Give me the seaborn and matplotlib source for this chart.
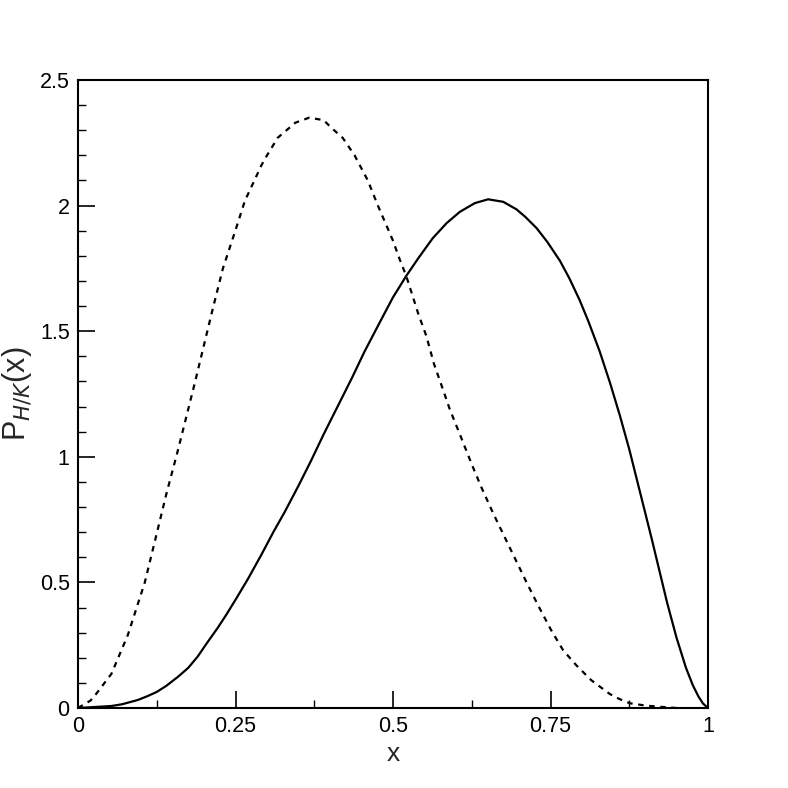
import numpy as np
import pandas as pd
import matplotlib
matplotlib.use("Agg")
import matplotlib.pyplot as plt
from matplotlib.ticker import MultipleLocator
import seaborn as sns


# -- -- -- -- --    data -- -- -- -- --

x_solid = [0.0, 0.053, 0.07, 0.095, 0.11, 0.125, 0.14, 0.159, 0.175, 0.19,
           0.205, 0.222, 0.235, 0.251, 0.27, 0.291, 0.31, 0.328, 0.35, 0.37,
           0.39, 0.413, 0.435, 0.455, 0.48, 0.5, 0.521, 0.54, 0.563, 0.585,
           0.606, 0.63, 0.651, 0.675, 0.696, 0.71, 0.728, 0.745, 0.765, 0.78,
           0.796, 0.81, 0.828, 0.845, 0.86, 0.875, 0.892, 0.91, 0.923, 0.935,
           0.95, 0.965, 0.976, 0.985, 0.992, 1.0]
y_solid = [0.0, 0.008, 0.015, 0.032, 0.047, 0.064, 0.088, 0.125, 0.16, 0.205,
           0.26, 0.32, 0.37, 0.435, 0.515, 0.61, 0.70, 0.78, 0.885, 0.985,
           1.09, 1.205, 1.315, 1.42, 1.54, 1.635, 1.72, 1.79, 1.87, 1.93,
           1.975, 2.01, 2.025, 2.015, 1.985, 1.955, 1.91, 1.855, 1.78, 1.71,
           1.625, 1.54, 1.42, 1.29, 1.165, 1.03, 0.86, 0.68, 0.545, 0.42,
           0.28, 0.16, 0.09, 0.045, 0.018, 0.0]

x_dashed = [0.0, 0.02, 0.03, 0.053, 0.079, 0.106, 0.125, 0.14, 0.159, 0.17,
            0.185, 0.212, 0.23, 0.251, 0.265, 0.28, 0.291, 0.30, 0.317, 0.345,
            0.367, 0.39, 0.402, 0.42, 0.439, 0.46, 0.476, 0.5, 0.51, 0.521,
            0.54, 0.553, 0.565, 0.579, 0.59, 0.606, 0.625, 0.64, 0.659, 0.685,
            0.712, 0.73, 0.751, 0.77, 0.791, 0.815, 0.844, 0.86, 0.876, 0.9,
            0.923, 0.95]
y_dashed = [0.0, 0.03, 0.06, 0.136, 0.29, 0.50, 0.695, 0.85, 1.03, 1.14,
            1.29, 1.57, 1.75, 1.91, 2.02, 2.10, 2.16, 2.20, 2.27, 2.33,
            2.35, 2.34, 2.31, 2.27, 2.20, 2.10, 2.00, 1.86, 1.79, 1.72,
            1.57, 1.48, 1.37, 1.27, 1.19, 1.09, 0.97, 0.88, 0.775, 0.64,
            0.50, 0.41, 0.31, 0.23, 0.17, 0.11, 0.056, 0.035, 0.019, 0.01,
            0.005, 0.0]

x_ticks = [0, 0.25, 0.5, 0.75, 1]
x_tick_labels = ["0", "0.25", "0.5", "0.75", "1"]
y_ticks = [0, 0.5, 1, 1.5, 2, 2.5]
y_tick_labels = ["0", "0.5", "1", "1.5", "2", "2.5"]

df_solid = pd.DataFrame({"x": x_solid, "P": y_solid})
df_dashed = pd.DataFrame({"x": x_dashed, "P": y_dashed})


# -- -- -- -- --    plot -- -- -- -- --

sns.set_style("white")
plt.rcParams["font.family"] = ["Liberation Sans", "DejaVu Sans"]

fig = plt.figure(figsize=(7.88, 7.88), dpi=100)
ax = fig.add_axes([0.099, 0.1015, 0.7995, 0.797])

sns.lineplot(data=df_solid, x="x", y="P", color="black", lw=1.6, ax=ax)
sns.lineplot(data=df_dashed, x="x", y="P", color="black", lw=1.6,
             linestyle=(0, (2.5, 2.5)), ax=ax)

ax.set_xlim(0, 1)
ax.set_ylim(0, 2.5)
ax.set_xticks(x_ticks)
ax.set_xticklabels(x_tick_labels)
ax.set_yticks(y_ticks)
ax.set_yticklabels(y_tick_labels)
ax.xaxis.set_minor_locator(MultipleLocator(0.125))
ax.yaxis.set_minor_locator(MultipleLocator(0.1))

ax.tick_params(which="both", direction="in", top=False, right=False,
               bottom=True, left=True, colors="black", labelsize=15.5)
ax.tick_params(which="major", length=12, width=1.2, pad=6)
ax.tick_params(which="minor", length=6, width=1.0)

for s in ax.spines.values():
    s.set_color("black")
    s.set_linewidth(1.5)

ax.set_xlabel("x", fontsize=19, labelpad=3)
ax.set_ylabel("P$_{H/K}$(x)", fontsize=22, labelpad=4)

fig.savefig("out.png", dpi=100, facecolor="white")
